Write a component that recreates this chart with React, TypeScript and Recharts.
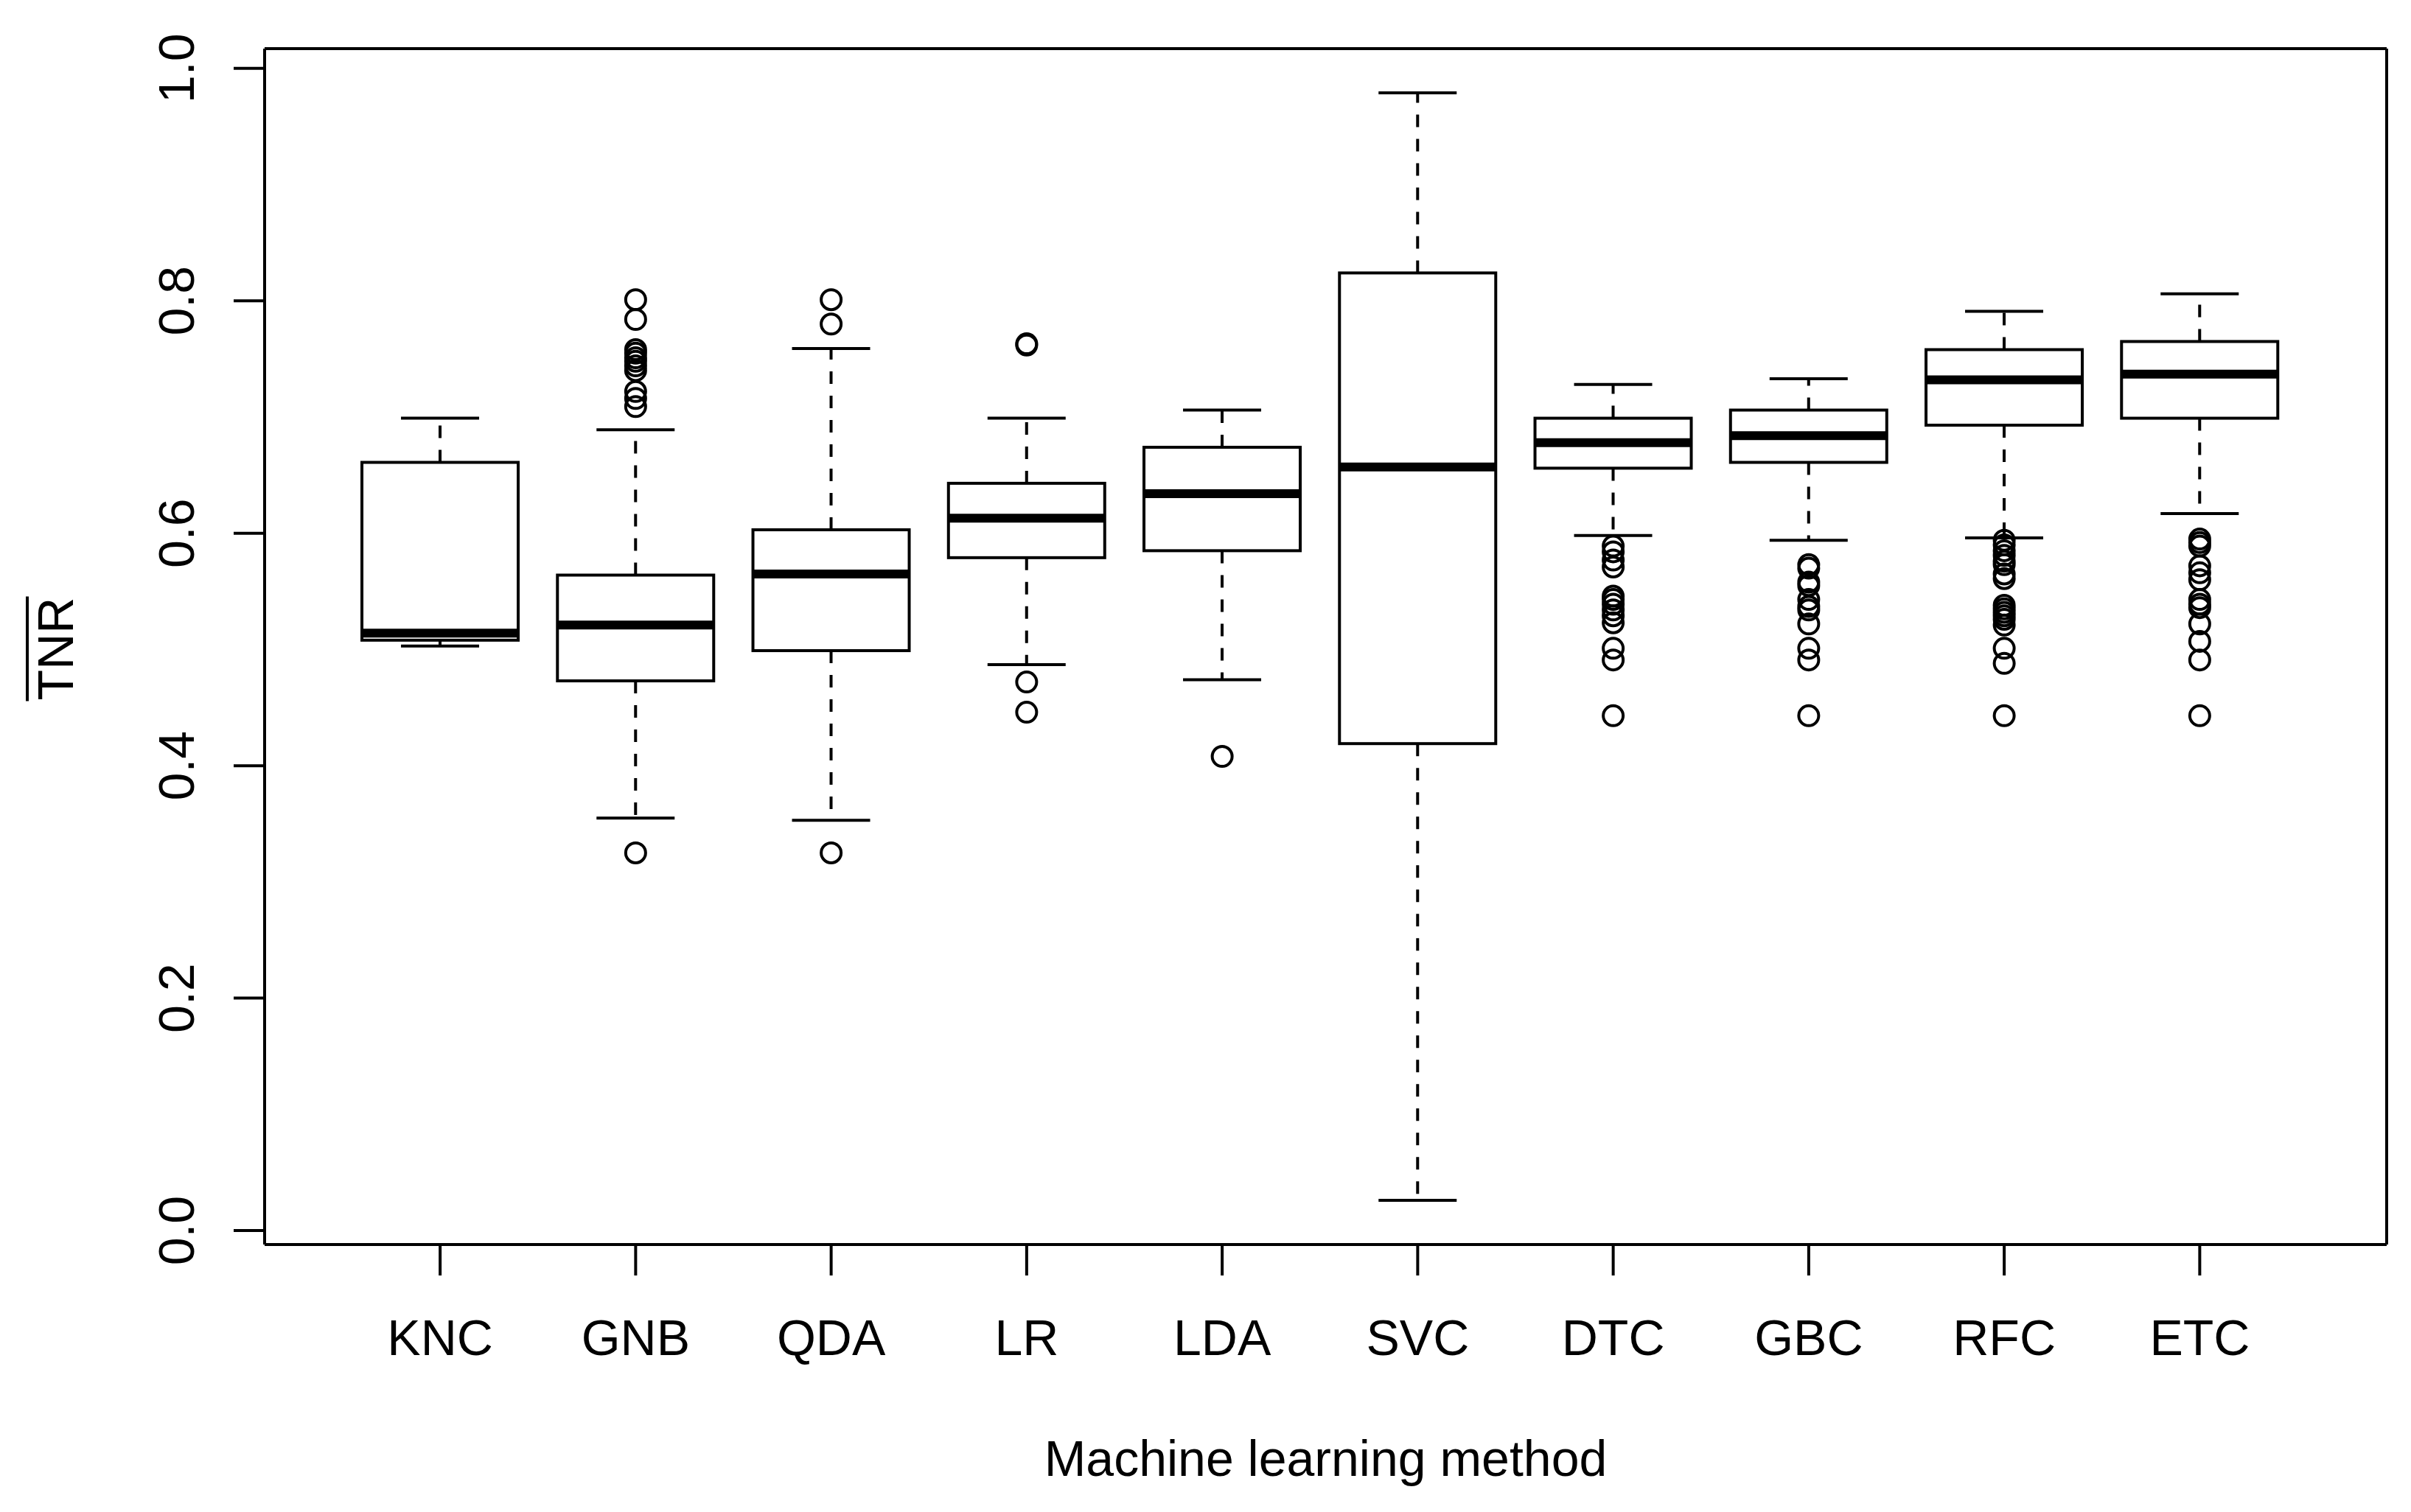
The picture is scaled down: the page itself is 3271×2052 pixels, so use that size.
import React from 'react';
import { ComposedChart, Bar, Scatter, XAxis, YAxis, CartesianGrid } from 'recharts';

// five-number summaries
const methods = ['KNC', 'GNB', 'QDA', 'LR', 'LDA', 'SVC', 'DTC', 'GBC', 'RFC', 'ETC'];
const whiskerLow = [0.503, 0.355, 0.353, 0.487, 0.474, 0.026, 0.598, 0.594, 0.596, 0.617];
const quartile1 = [0.508, 0.473, 0.499, 0.579, 0.585, 0.419, 0.656, 0.661, 0.693, 0.699];
const medians = [0.514, 0.521, 0.565, 0.613, 0.634, 0.657, 0.678, 0.684, 0.732, 0.737];
const quartile3 = [0.661, 0.564, 0.603, 0.643, 0.674, 0.824, 0.699, 0.706, 0.758, 0.765];
const whiskerHigh = [0.699, 0.689, 0.759, 0.699, 0.706, 0.979, 0.728, 0.733, 0.791, 0.806];
const outlierValues: number[][] = [
  [],
  [0.801, 0.784, 0.758, 0.755, 0.751, 0.748, 0.744, 0.74, 0.722, 0.716, 0.709, 0.325],
  [0.801, 0.78, 0.325],
  [0.763, 0.762, 0.472, 0.446],
  [0.408],
  [],
  [0.589, 0.584, 0.577, 0.571, 0.546, 0.543, 0.539, 0.534, 0.529, 0.523, 0.501, 0.491, 0.443],
  [0.573, 0.57, 0.558, 0.555, 0.543, 0.537, 0.534, 0.522, 0.501, 0.491, 0.443],
  [0.594, 0.59, 0.585, 0.581, 0.576, 0.573, 0.565, 0.561, 0.538, 0.535, 0.532, 0.529, 0.526, 0.521, 0.501, 0.488, 0.443],
  [0.595, 0.592, 0.589, 0.572, 0.566, 0.56, 0.543, 0.539, 0.536, 0.522, 0.507, 0.491, 0.443],
];
const yTicks = [0, 0.2, 0.4, 0.6, 0.8, 1.0];
const yDomain = [-0.012, 1.017];

const boxData = methods.map((name, i) => ({
  name,
  lo: whiskerLow[i],
  q1: quartile1[i],
  med: medians[i],
  q3: quartile3[i],
  hi: whiskerHigh[i],
}));

const outlierData = methods.flatMap((name, i) => outlierValues[i].map(value => ({ name, value })));

const FONT = 68;
const FAMILY = '"Liberation Sans", Arial, sans-serif';
const LW = 4;
const axisStyle = { stroke: '#000', strokeWidth: LW };

// the bar spans lo..hi; everything else is placed inside it on the same linear scale
function BoxShape(props: any) {
  const { x, y, width, height, payload } = props;
  const { lo, q1, med, q3, hi } = payload;
  const k = height / (hi - lo);
  const py = (v: number) => y + (hi - v) * k;
  const cx = x + width / 2;
  const cap = width / 4;
  return (
    <g stroke="#000" fill="none" strokeWidth={LW}>
      <line x1={cx} x2={cx} y1={py(q3)} y2={py(hi)} strokeDasharray="17 16" />
      <line x1={cx} x2={cx} y1={py(q1)} y2={py(lo)} strokeDasharray="17 16" />
      <line x1={cx - cap} x2={cx + cap} y1={py(hi)} y2={py(hi)} />
      <line x1={cx - cap} x2={cx + cap} y1={py(lo)} y2={py(lo)} />
      <rect x={x} y={py(q3)} width={width} height={py(q1) - py(q3)} />
      <line x1={x} x2={x + width} y1={py(med)} y2={py(med)} strokeWidth={12} />
    </g>
  );
}

function OutlierShape(props: any) {
  const { cx, cy } = props;
  return <circle cx={cx} cy={cy} r={13.5} fill="none" stroke="#000" strokeWidth={LW} />;
}

function XTick(props: any) {
  const { x, y, payload } = props;
  return (
    <text x={x} y={y + 0.7 * FONT} textAnchor="middle" fontSize={FONT} fontFamily={FAMILY} fill="#000">
      {payload.value}
    </text>
  );
}

function YTick(props: any) {
  const { x, y, payload } = props;
  return (
    <text x={x} y={y} transform={`rotate(-90 ${x} ${y})`} textAnchor="middle" fontSize={FONT} fontFamily={FAMILY} fill="#000">
      {Number(payload.value).toFixed(1)}
    </text>
  );
}

function YTitle(props: any) {
  const vb = props.viewBox;
  const cy = vb.y + vb.height / 2 + 3;
  const bx = vb.x + 91;
  return (
    <g>
      <text x={bx} y={cy} transform={`rotate(-90 ${bx} ${cy})`} textAnchor="middle" fontSize={FONT} fontFamily={FAMILY} fill="#000">
        TNR
      </text>
      <line x1={bx - 62} x2={bx - 62} y1={cy - 71} y2={cy + 71} stroke="#000" strokeWidth={LW} />
    </g>
  );
}

// plot frame (R's box()): grid lines only at the edges of the plotting area
const frameRows = ({ offset }: any) => [offset.top, offset.top + offset.height];
const frameCols = ({ offset }: any) => [offset.left, offset.left + offset.width];

export default function App() {
  return (
    <div style={{ width: 3255, height: 2036, background: '#fff' }}>
      <ComposedChart
        width={3255}
        height={2036}
        data={boxData}
        margin={{ top: 58, right: 25, bottom: 0, left: 0 }}
        barCategoryGap="10%"
      >
        <CartesianGrid
          stroke="#000"
          strokeWidth={LW}
          horizontalCoordinatesGenerator={frameRows}
          verticalCoordinatesGenerator={frameCols}
        />
        <XAxis
          dataKey="name"
          type="category"
          allowDuplicatedCategory={false}
          interval={0}
          padding={{ left: 105.5, right: 121 }}
          height={355}
          tickSize={42}
          tickMargin={60}
          tickLine={axisStyle}
          axisLine={false}
          tick={<XTick />}
          label={{
            value: 'Machine learning method',
            position: 'insideBottom',
            offset: 41,
            fill: '#000',
            fontSize: FONT,
            fontFamily: FAMILY,
          }}
        />
        <YAxis
          type="number"
          domain={yDomain}
          allowDataOverflow
          ticks={yTicks}
          interval={0}
          width={351}
          tickSize={42}
          tickMargin={54}
          tickLine={axisStyle}
          axisLine={false}
          tick={<YTick />}
          label={<YTitle />}
        />
        <Bar dataKey={(d: any) => [d.lo, d.hi]} shape={<BoxShape />} isAnimationActive={false} />
        <Scatter data={outlierData} dataKey="value" shape={<OutlierShape />} isAnimationActive={false} />
      </ComposedChart>
    </div>
  );
}
